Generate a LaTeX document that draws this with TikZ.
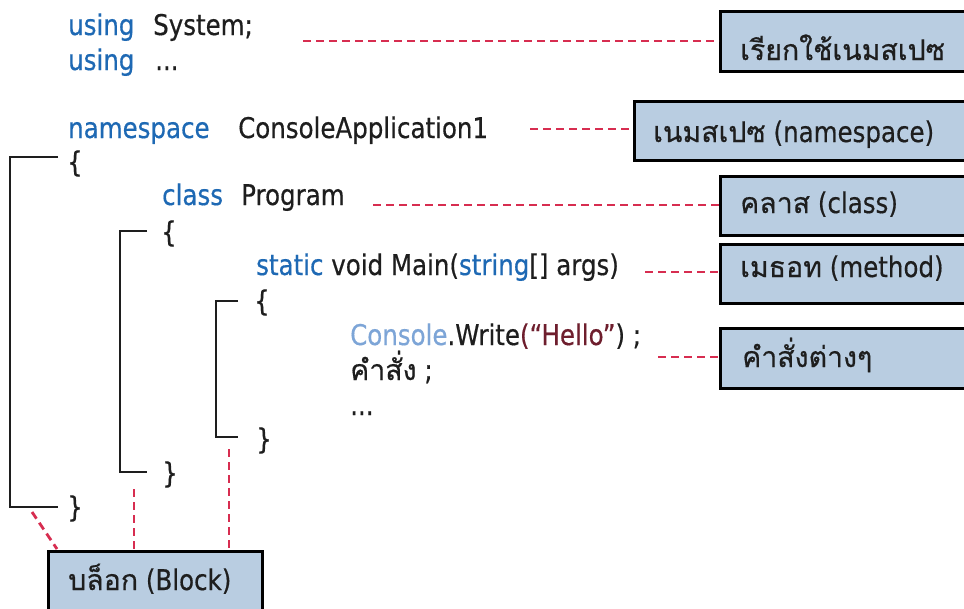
\documentclass[tikz,border=0pt]{standalone}
\usepackage{fontspec}
\setmainfont{DejaVu Sans}[FakeStretch=0.86, FakeBold=0.5]
\newfontfamily\thai[Script=Thai, FakeBold=0.5]{Loma}
\definecolor{kw}{RGB}{30,105,180}
\definecolor{cons}{RGB}{125,165,215}
\definecolor{hello}{RGB}{110,30,45}
\definecolor{ink}{RGB}{30,30,30}
\definecolor{dash}{RGB}{215,45,80}
\definecolor{boxfill}{RGB}{185,205,225}
\tikzset{
  code/.style={anchor=base west, inner sep=0pt, text=ink, font=\fontsize{28.5}{34}\selectfont},
  kwd/.style={code, text=kw},
  lbl/.style={anchor=base west, inner sep=0pt, text=ink, font=\fontsize{28.5}{34}\selectfont},
  tagbox/.style={draw=black, line width=2.6pt, fill=boxfill, rectangle, anchor=north west, inner sep=0pt},
  leader/.style={draw=dash, line width=2.8pt, dash pattern=on 8pt off 5pt},
  bracket/.style={draw=ink, line width=2.4pt}
}
\begin{document}
\begin{tikzpicture}[x=1pt,y=-1pt]
\useasboundingbox (0,0) rectangle (964,608);
\clip (0,0) rectangle (964,608);
\fill[white] (0,0) rectangle (964,608);

% code lines
\node[kwd] (u1) at (68,35) {using};
\node[code] (sys) at (153,35) {System;};
\node[kwd] (u2) at (68,70) {using};
\node[code] (dots1) at (155,70) {...};
\node[kwd] (ns) at (68,138) {namespace};
\node[code] (capp) at (238,138) {ConsoleApplication1};
\node[code] (ob1) at (67,172) {\{};
\node[kwd] (cl) at (162,205) {class};
\node[code] (prog) at (241,205) {Program};
\node[code] (ob2) at (161,242) {\{};
\node[code] (mainl) at (256,275) {{\color{kw}static} void Main({\color{kw}string}[] args)};
\node[code] (ob3) at (254,311) {\{};
\node[code] (write) at (350,345) {{\color{cons}Console}.Write{\color{hello}(“Hello”}) ;};
\node[code] (cmd) at (350,380) {{\thai คำสั่ง} ;};
\node[code] (dots2) at (350,415) {...};
\node[code] (cb3) at (256,449) {\}};
\node[code] (cb2) at (162,483) {\}};
\node[code] (cb1) at (67,517) {\}};

% brackets
\draw[bracket] (58,157) -- (10,157) -- (10,507) -- (58,507);
\draw[bracket] (147,231) -- (120,231) -- (120,472) -- (147,472);
\draw[bracket] (238,301) -- (216,301) -- (216,437) -- (238,437);

% tag boxes
\node[tagbox, minimum width=270pt, minimum height=60pt] (t1) at (719,10) {};
\node[lbl] (t1l) at (740,60) {\thai เรียกใช้เนมสเปซ};
\node[tagbox, minimum width=350pt, minimum height=59pt] (t2) at (633,100) {};
\node[lbl] (t2l) at (653,142) {{\thai เนมสเปซ} (namespace)};
\node[tagbox, minimum width=270pt, minimum height=59pt] (t3) at (719,175) {};
\node[lbl] (t3l) at (740,213) {{\thai คลาส} (class)};
\node[tagbox, minimum width=270pt, minimum height=59pt] (t4) at (719,243) {};
\node[lbl] (t4l) at (740,277) {{\thai เมธอท} (method)};
\node[tagbox, minimum width=270pt, minimum height=60pt] (t5) at (719,327) {};
\node[lbl] (t5l) at (742,367) {\thai คำสั่งต่างๆ};
\node[tagbox, minimum width=214pt, minimum height=70pt] (tb) at (47,550) {};
\node[lbl] (tbl) at (68,590) {{\thai บล็อก} (Block)};

% leaders
\coordinate (s1) at (303,41);
\coordinate (s2) at (530,129);
\coordinate (s3) at (373,205);
\coordinate (s4) at (645,272);
\coordinate (s5) at (658,357);
\draw[leader] (s1) -- (s1 -| t1.west);
\draw[leader] (s2) -- (s2 -| t2.west);
\draw[leader] (s3) -- (s3 -| t3.west);
\draw[leader] (s4) -- (s4 -| t4.west);
\draw[leader] (s5) -- (s5 -| t5.west);
\coordinate (b1) at (32,512);
\coordinate (b2) at (134,489);
\coordinate (b3) at (229,449);
\draw[leader] (b1) -- (57,549);
\draw[leader] (b2) -- (b2 |- tb.north);
\draw[leader] (b3) -- (b3 |- tb.north);
\end{tikzpicture}
\end{document}
